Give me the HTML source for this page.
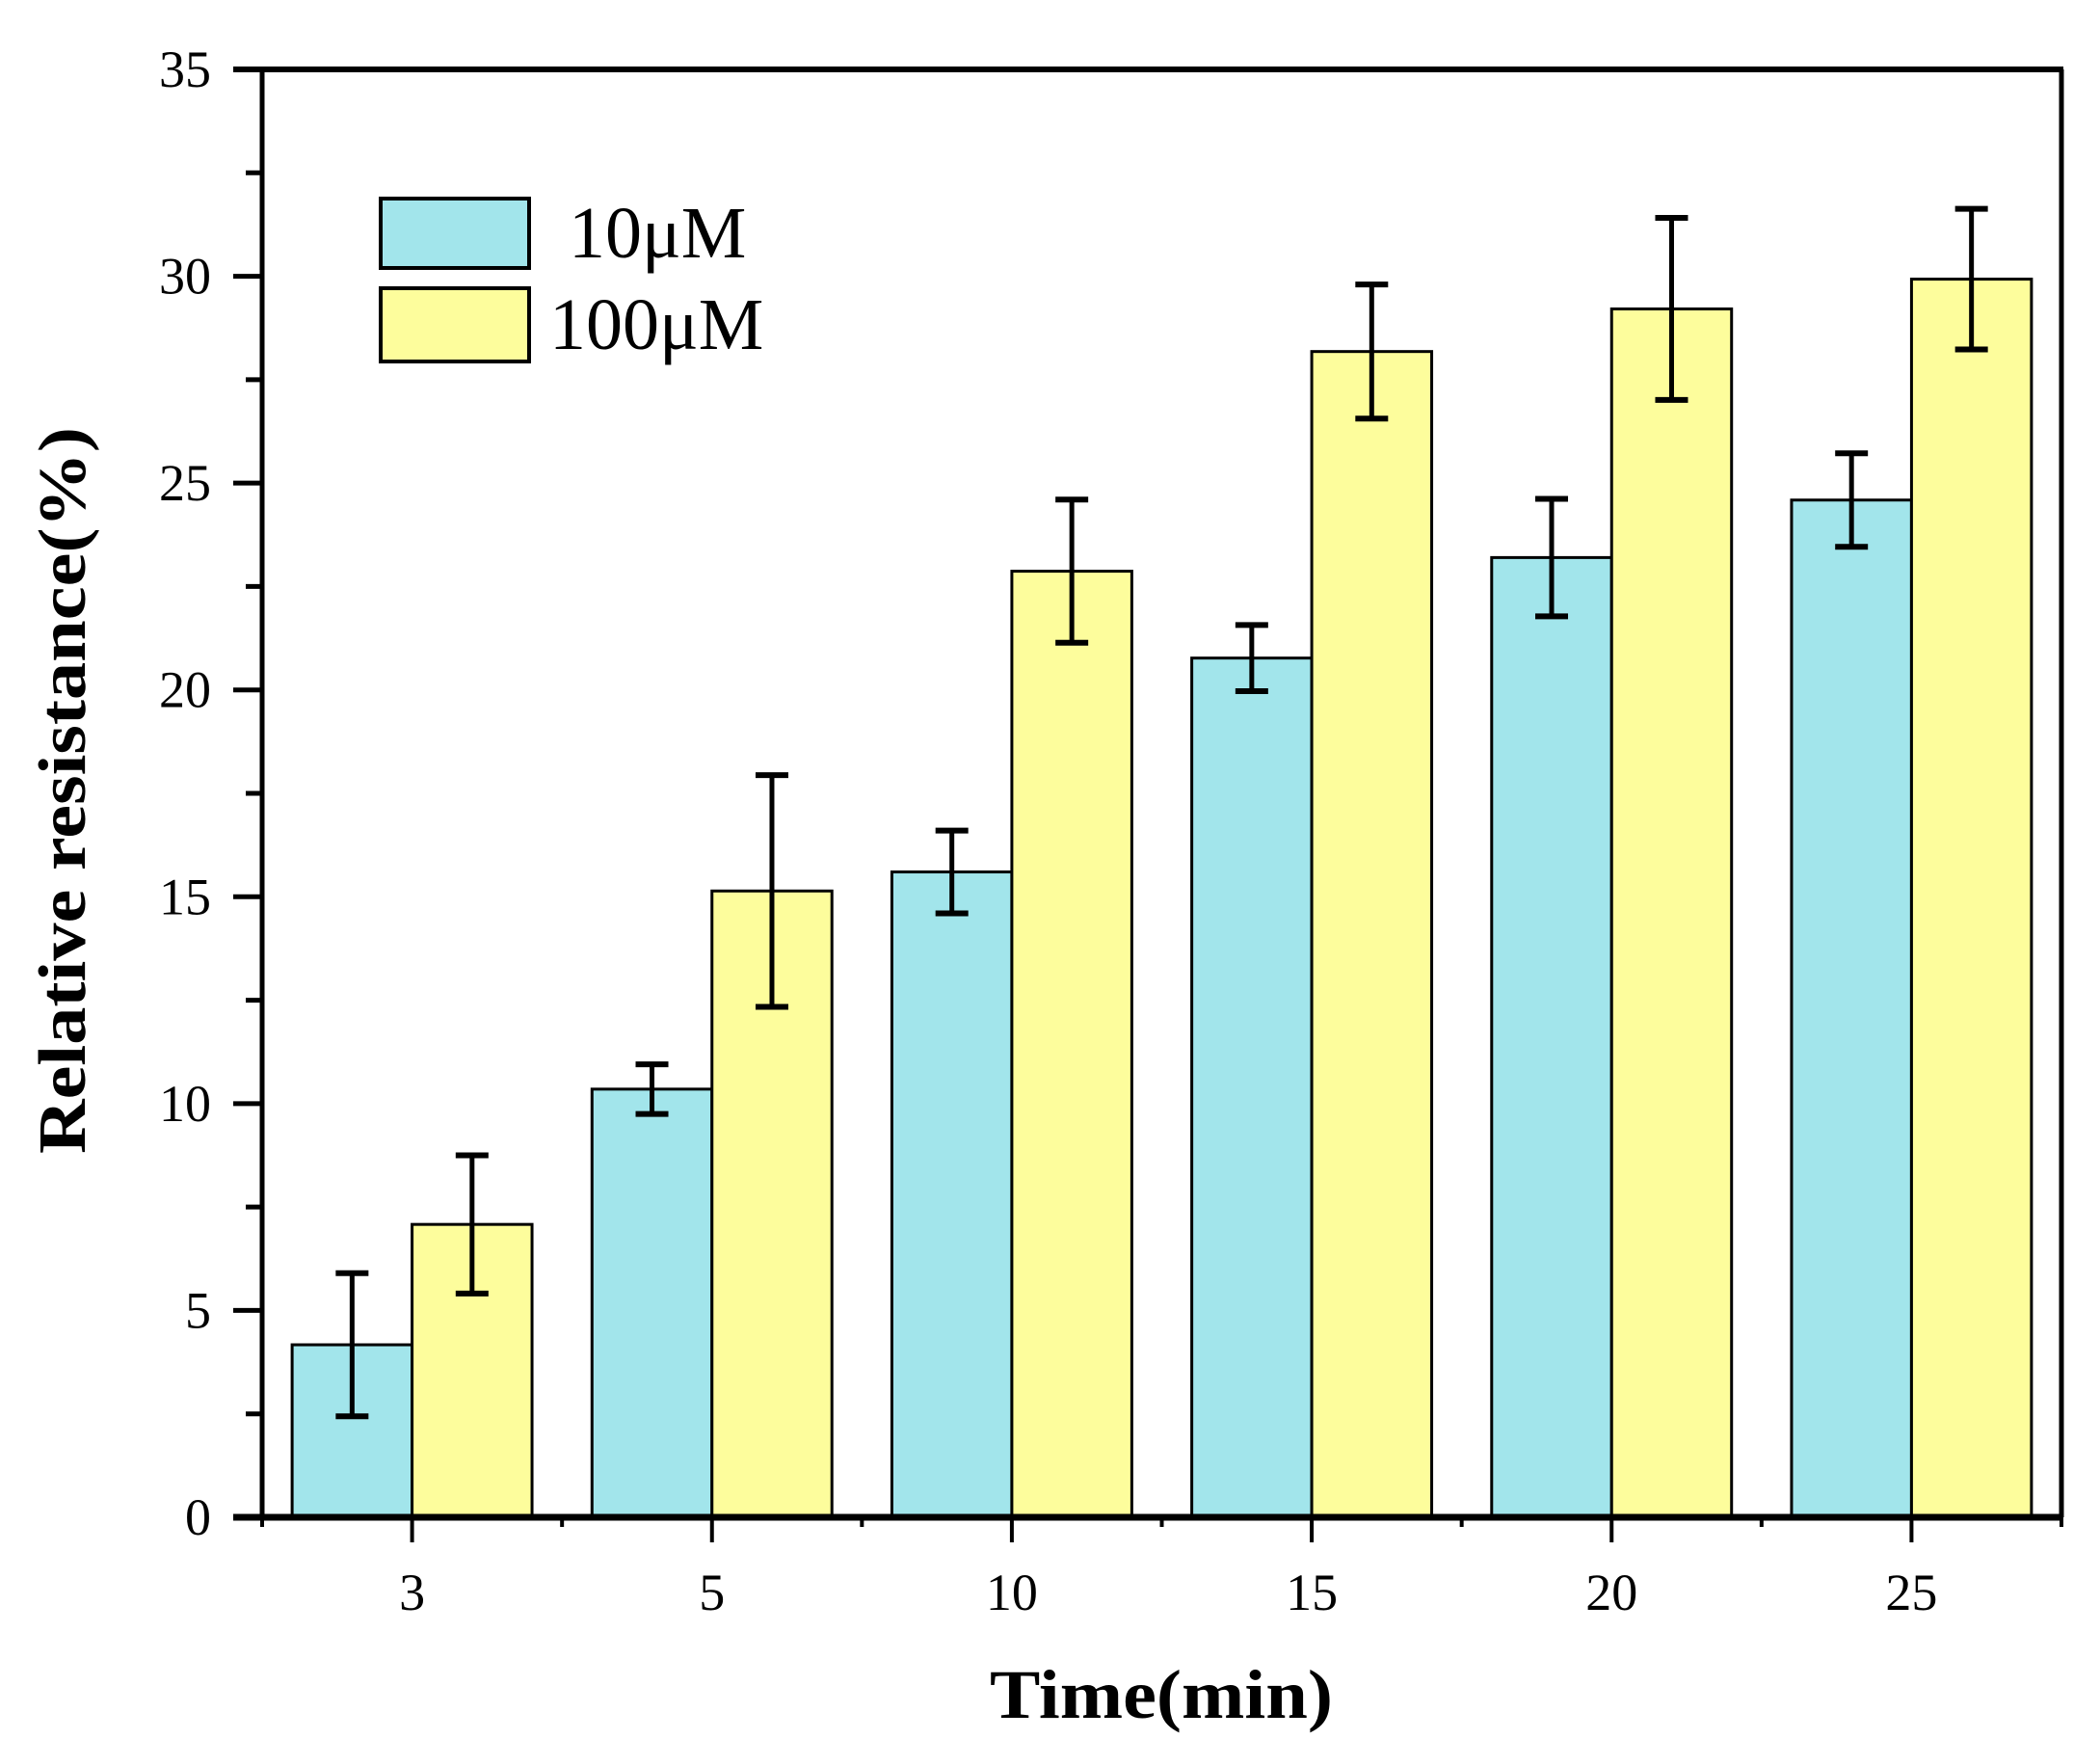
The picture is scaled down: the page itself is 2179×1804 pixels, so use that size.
<!DOCTYPE html>
<html><head><meta charset="utf-8"><style>
html,body{margin:0;padding:0;background:#fff;}
svg{display:block;font-family:"Liberation Serif",serif;}
</style></head><body>
<svg id="chart" width="2179" height="1804" viewBox="0 0 2179 1804" xmlns="http://www.w3.org/2000/svg">
<g id="bars"></g>
<g id="axes"></g>
<g>
  <rect x="395" y="206" width="154" height="72" fill="#a2e5eb" stroke="#000" stroke-width="4"/>
  <text x="590" y="267" font-size="76">10μM</text>
  <rect x="395" y="299" width="154" height="76" fill="#fdfd9c" stroke="#000" stroke-width="4"/>
  <text x="570" y="362" font-size="76">100μM</text>
</g>
<text transform="translate(88,820) rotate(-90)" text-anchor="middle" font-size="70" font-weight="bold" textLength="754" lengthAdjust="spacingAndGlyphs">Relative resistance(%)</text>
<text x="1205" y="1782" text-anchor="middle" font-size="72" font-weight="bold" textLength="356" lengthAdjust="spacingAndGlyphs">Time(min)</text>
</svg>
<script>
const categories = ["3","5","10","15","20","25"];
const series10 = [4.17, 10.35, 15.6, 20.77, 23.2, 24.59];
const err10 = [1.73, 0.6, 1.0, 0.8, 1.42, 1.13];
const series100 = [7.08, 15.14, 22.87, 28.18, 29.21, 29.93];
const err100 = [1.67, 2.8, 1.73, 1.62, 2.2, 1.7];
const yTicks = [0, 5, 10, 15, 20, 25, 30, 35];

const NS = "http://www.w3.org/2000/svg";
const X0 = 272, X1 = 2139, Y0 = 1574, Y1 = 72;
const yMax = 35;
const band = (X1 - X0) / categories.length;
function y(v){ return Y0 - (Y0 - Y1) * v / yMax; }
function xc(i){ return X0 + band * (i + 0.5); }
const barW = band * 0.4;
function mk(tag, attrs, parent){
  const e = document.createElementNS(NS, tag);
  for (const k in attrs) e.setAttribute(k, attrs[k]);
  parent.appendChild(e);
  return e;
}
const bars = document.getElementById('bars');
const axes = document.getElementById('axes');
function drawSeries(vals, errs, offset, fill, nm){
  vals.forEach((v, i) => {
    const left = xc(i) + offset * barW;
    const r = mk('rect', {x:left, y:y(v), width:barW, height:Y0 - y(v), fill:fill, stroke:'#000', 'stroke-width':3}, bars);
    
    
    const cx = left + barW / 2;
    const g = mk('g', {stroke:'#000'}, bars);
    
    
    mk('line', {x1:cx, x2:cx, y1:y(v + errs[i]), y2:y(v - errs[i]), 'stroke-width':5}, g);
    mk('line', {x1:cx - 17, x2:cx + 17, y1:y(v + errs[i]), y2:y(v + errs[i]), 'stroke-width':6}, g);
    mk('line', {x1:cx - 17, x2:cx + 17, y1:y(v - errs[i]), y2:y(v - errs[i]), 'stroke-width':6}, g);
  });
}
drawSeries(series10, err10, -1, '#a2e5eb', '10uM');
drawSeries(series100, err100, 0, '#fdfd9c', '100uM');

// frame
mk('line', {x1:X0, x2:X0, y1:Y1 - 3, y2:Y0 + 3, stroke:'#000', 'stroke-width':5}, axes);
mk('line', {x1:X1, x2:X1, y1:Y1, y2:Y0, stroke:'#000', 'stroke-width':5}, axes);
mk('line', {x1:X0 - 30, x2:X1 + 2, y1:Y1, y2:Y1, stroke:'#000', 'stroke-width':6}, axes);
mk('line', {x1:X0 - 30, x2:X1 + 2, y1:Y0, y2:Y0, stroke:'#000', 'stroke-width':7}, axes);
// y ticks
yTicks.forEach(t => {
  mk('line', {x1:X0 - 30, x2:X0, y1:y(t), y2:y(t), stroke:'#000', 'stroke-width':5}, axes);
  if (t < yMax) mk('line', {x1:X0 - 17, x2:X0, y1:y(t + 2.5), y2:y(t + 2.5), stroke:'#000', 'stroke-width':5}, axes);
  const tx = mk('text', {x:219, y:y(t) + 18, 'text-anchor':'end', 'font-size':54}, axes);
  
  
  tx.textContent = t;
});
// x ticks
categories.forEach((c, i) => {
  mk('line', {x1:xc(i), x2:xc(i), y1:Y0, y2:Y0 + 26, stroke:'#000', 'stroke-width':4}, axes);
  mk('line', {x1:X0 + band * i, x2:X0 + band * i, y1:Y0, y2:Y0 + 10, stroke:'#000', 'stroke-width':4}, axes);
  const tx = mk('text', {x:xc(i), y:1670, 'text-anchor':'middle', 'font-size':54}, axes);
  
  
  tx.textContent = c;
});
mk('line', {x1:X1, x2:X1, y1:Y0, y2:Y0 + 10, stroke:'#000', 'stroke-width':4}, axes);
</script>
</body></html>
